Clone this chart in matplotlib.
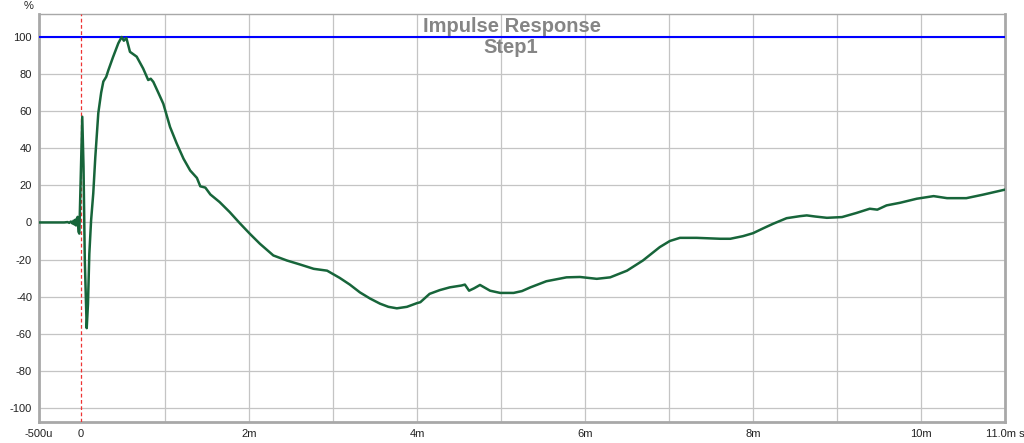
import matplotlib
matplotlib.use("Agg")
import matplotlib.pyplot as plt

# time in ms, step response in %
t_ms = [-0.50, -0.20, -0.16, -0.14, -0.12, -0.10, -0.09, -0.08, -0.07, -0.06,
        -0.05, -0.04, -0.03, -0.02, 0.00, 0.015, 0.03, 0.045, 0.068, 0.083,
        0.099, 0.12, 0.146, 0.17, 0.206, 0.24, 0.266, 0.30, 0.325, 0.38,
        0.444, 0.484, 0.51, 0.54, 0.583, 0.663, 0.74, 0.80, 0.83, 0.861,
        0.92, 0.98, 1.06, 1.14, 1.22, 1.30, 1.38, 1.42, 1.48, 1.54,
        1.65, 1.77, 1.89, 2.01, 2.13, 2.29, 2.45, 2.61, 2.77, 2.93,
        3.08, 3.20, 3.32, 3.44, 3.56, 3.66, 3.76, 3.88, 4.00, 4.04,
        4.15, 4.27, 4.39, 4.53, 4.57, 4.62, 4.68, 4.75, 4.87, 4.99,
        5.15, 5.25, 5.35, 5.54, 5.78, 5.94, 6.14, 6.30, 6.50, 6.69,
        6.89, 7.01, 7.13, 7.33, 7.61, 7.73, 7.88, 8.00, 8.12, 8.24,
        8.40, 8.56, 8.64, 8.74, 8.88, 9.06, 9.23, 9.39, 9.48, 9.59,
        9.75, 9.95, 10.15, 10.31, 10.54, 10.74, 11.00]
step_pct = [0.0, 0.0, 0.2, -0.2, 0.5, -0.6, 0.9, -1.0, 1.4, -1.6,
            2.0, 3.0, -5.0, -6.0, 30.0, 57.0, 30.0, -20.0, -57.0, -44.0,
            -17.0, 1.0, 15.7, 35.0, 59.0, 70.0, 76.0, 78.5, 82.0, 89.0,
            96.6, 100.0, 98.0, 99.5, 92.0, 89.4, 83.0, 76.8, 77.5, 75.8,
            70.0, 64.0, 51.5, 42.5, 34.4, 28.0, 24.0, 19.5, 18.8, 15.1,
            11.0, 5.6, -0.4, -6.1, -11.5, -17.8, -20.5, -22.7, -25.0, -26.0,
            -29.9, -33.5, -37.7, -41.0, -43.8, -45.5, -46.3, -45.5, -43.5, -43.0,
            -38.5, -36.5, -35.0, -34.0, -33.5, -36.8, -35.5, -33.7, -36.8, -38.0,
            -38.0, -37.0, -35.0, -31.7, -29.6, -29.4, -30.4, -29.6, -26.0, -20.5,
            -13.3, -10.0, -8.3, -8.3, -8.8, -8.8, -7.4, -5.8, -3.2, -0.7,
            2.3, 3.4, 3.8, 3.2, 2.5, 2.9, 5.1, 7.4, 6.9, 9.2,
            10.6, 12.8, 14.2, 13.1, 13.1, 15.0, 17.7]

x_ticks = [-0.5, 0, 2, 4, 6, 8, 10, 11]
x_labels = ["-500u", "0", "2m", "4m", "6m", "8m", "10m", "11.0m s"]
y_ticks = [-100, -80, -60, -40, -20, 0, 20, 40, 60, 80, 100]


def main():
    plt.rcParams['font.family'] = ['Liberation Sans', 'DejaVu Sans']
    fig = plt.figure(figsize=(10.24, 4.43), dpi=100)
    ax = fig.add_axes([39 / 1024, 1 - 422 / 443, 966 / 1024, 408 / 443])

    ax.set_xlim(-0.5, 11.0)
    ax.set_ylim(-107.6, 112.4)

    ax.set_xticks(x_ticks)
    ax.set_xticklabels(x_labels)
    ax.xaxis.remove_overlapping_locs = False
    ax.set_xticks(range(1, 11), minor=True)
    ax.set_yticks(y_ticks)
    ax.set_yticklabels([str(v) for v in y_ticks])
    ax.tick_params(which="both", length=0, labelsize=8, colors="#222222", pad=5)
    # x grid only on the 1 ms minor ticks so the 0 line stays red
    ax.grid(True, axis="x", which="minor", color="#c4c4c4", lw=0.9)
    ax.grid(True, axis="y", which="major", color="#c4c4c4", lw=0.9)
    ax.set_axisbelow(True)

    for side, sp in ax.spines.items():
        sp.set_color("#a8a8a8")
        sp.set_linewidth(2.0 if side != "top" else 1.0)

    ax.axhline(100, color="#0000ff", lw=1.5, zorder=3)
    ax.axvline(0, color="#ee3333", lw=0.9, ls=(0, (3, 2)), zorder=3)
    ax.plot(t_ms, step_pct, color="#17653a", lw=1.8, zorder=4)

    fig.text(29 / 1024, 1 - 6 / 443, "%", fontsize=8, color="#222222",
             ha="center", va="center")
    fig.text(512 / 1024, 1 - 32 / 443, "Impulse Response", fontsize=14.5,
             fontweight="bold", color="#858585", ha="center", va="baseline", zorder=5)
    fig.text(511 / 1024, 1 - 53 / 443, "Step1", fontsize=14.5,
             fontweight="bold", color="#858585", ha="center", va="baseline", zorder=5)

    fig.savefig("out.png", dpi=100)


if __name__ == '__main__':
    main()
